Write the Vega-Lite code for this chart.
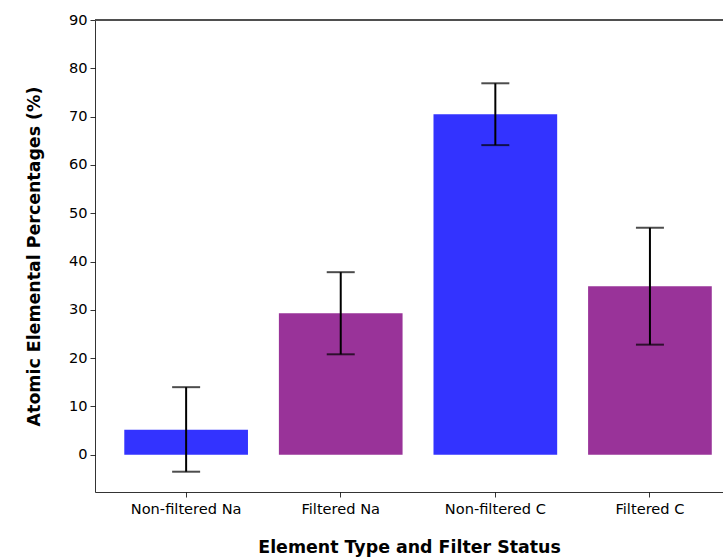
{
  "$schema": "https://vega.github.io/schema/vega-lite/v6.json",
  "autosize": {"type": "none"},
  "padding": {"left": 95, "top": 20, "right": 0, "bottom": 66},
  "width": 628,
  "height": 472,
  "background": "white",
  "config": {
    "view": {"stroke": null},
    "font": "DejaVu Sans",
    "axis": {"grid": false, "domainColor": "black", "domainWidth": 0.8, "tickColor": "black", "tickWidth": 0.8, "tickSize": 5, "labelColor": "black", "labelFontSize": 14.6, "labelFont": "DejaVu Sans", "titleFont": "DejaVu Sans", "titleFontSize": 17.4, "titleFontWeight": "bold", "titleColor": "black"}
  },
  "data": {
    "values": [
      {"cat": "Non-filtered Na", "value": 5.2, "lo": -3.5, "hi": 14.0, "group": "Non-filtered"},
      {"cat": "Filtered Na", "value": 29.3, "lo": 20.8, "hi": 37.8, "group": "Filtered"},
      {"cat": "Non-filtered C", "value": 70.5, "lo": 64.1, "hi": 76.9, "group": "Non-filtered"},
      {"cat": "Filtered C", "value": 34.9, "lo": 22.8, "hi": 47.0, "group": "Filtered"}
    ]
  },
  "encoding": {
    "x": {
      "field": "cat", "type": "nominal", "sort": null,
      "scale": {"paddingInner": 0.2, "paddingOuter": 0.131, "align": 0.723},
      "axis": {"title": "Element Type and Filter Status", "labelAngle": 0, "labelPadding": 4, "titlePadding": 23}
    }
  },
  "layer": [
    {
      "mark": {"type": "bar"},
      "encoding": {
        "y": {
          "field": "value", "type": "quantitative",
          "scale": {"domain": [-7.7, 90], "nice": false, "zero": false},
          "axis": {"title": "Atomic Elemental Percentages (%)", "values": [0, 10, 20, 30, 40, 50, 60, 70, 80, 90], "labelPadding": 3, "titlePadding": 25}
        },
        "color": {
          "field": "group", "type": "nominal",
          "scale": {"domain": ["Non-filtered", "Filtered"], "range": ["#3333ff", "#993399"]},
          "legend": null
        }
      }
    },
    {
      "mark": {"type": "rule", "color": "black", "strokeWidth": 2},
      "encoding": {
        "y": {"field": "lo", "type": "quantitative"},
        "y2": {"field": "hi"}
      }
    },
    {
      "mark": {"type": "tick", "color": "black", "size": 28, "thickness": 2, "orient": "horizontal"},
      "encoding": {
        "y": {"field": "lo", "type": "quantitative"}
      }
    },
    {
      "mark": {"type": "tick", "color": "black", "size": 28, "thickness": 2, "orient": "horizontal"},
      "encoding": {
        "y": {"field": "hi", "type": "quantitative"}
      }
    },
    {
      "mark": {"type": "rule", "color": "#444444", "strokeWidth": 1},
      "encoding": {
        "y": {"datum": 90},
        "x": {"value": 0},
        "x2": {"value": 628}
      }
    }
  ]
}
